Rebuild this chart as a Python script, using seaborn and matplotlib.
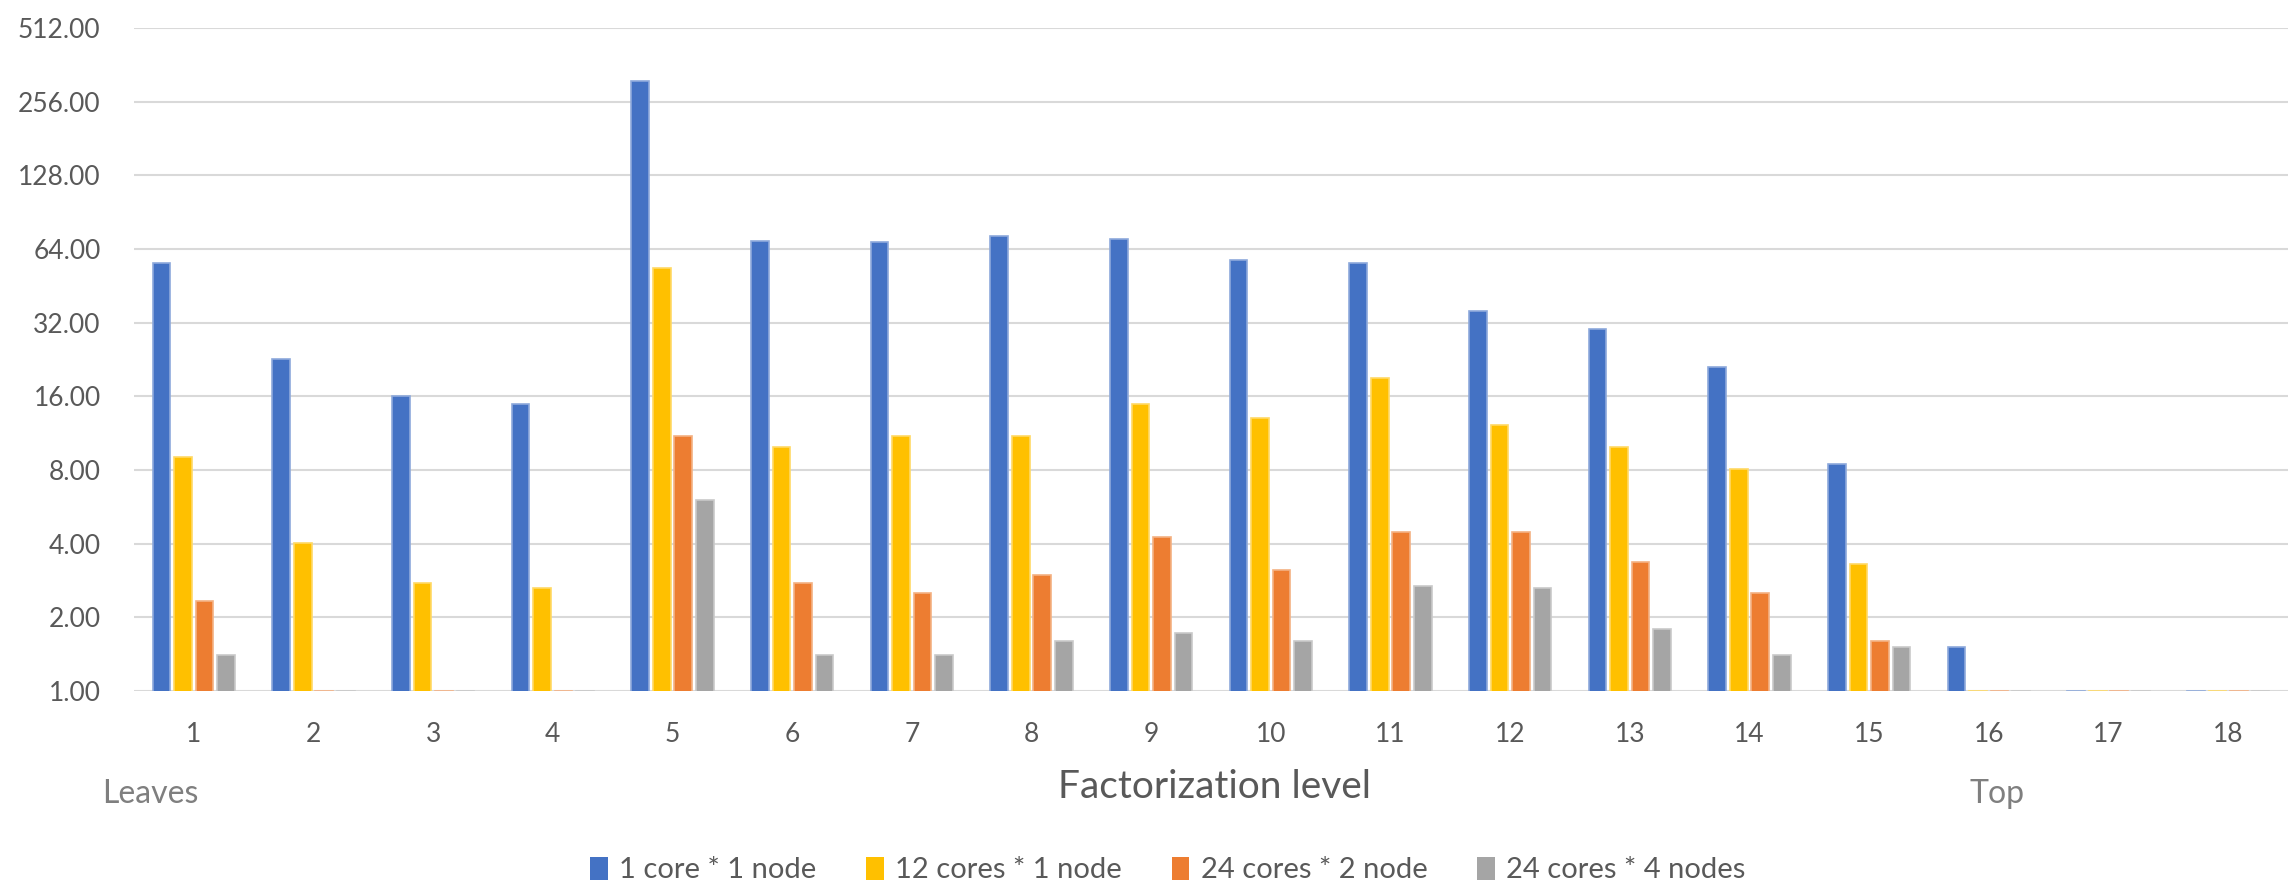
import matplotlib
matplotlib.use("Agg")
import matplotlib.pyplot as plt
import matplotlib.ticker as mticker
import seaborn as sns
import pandas as pd
from matplotlib.patches import Patch

levels = [str(i) for i in range(1, 19)]
series = ["1 core * 1 node", "12 cores * 1 node", "24 cores * 2 node", "24 cores * 4 nodes"]

one_core_one_node = [56.0, 22.7, 16.0, 14.9, 310.0, 68.8, 68.6, 72.3, 70.3, 57.7,
                     56.1, 35.7, 30.1, 21.1, 8.5, 1.51, 1.0, 1.0]
twelve_cores_one_node = [9.0, 4.02, 2.76, 2.63, 53.5, 9.9, 11.0, 11.0, 14.9, 13.1,
                         19.1, 12.2, 9.9, 8.1, 3.29, 1.0, 1.0, 1.0]
twentyfour_cores_two_node = [2.33, 1.0, 1.0, 1.0, 11.0, 2.76, 2.51, 2.98, 4.25, 3.13,
                             4.45, 4.45, 3.38, 2.51, 1.60, 1.0, 1.0, 1.0]
twentyfour_cores_four_nodes = [1.40, 1.0, 1.0, 1.0, 6.03, 1.40, 1.40, 1.60, 1.72, 1.60,
                               2.69, 2.63, 1.80, 1.40, 1.51, 1.0, 1.0, 1.0]

y_ticks = [1, 2, 4, 8, 16, 32, 64, 128, 256, 512]

colors = ["#4472C4", "#FFC000", "#ED7D31", "#A5A5A5"]
edge_tints = ["#8EA9DB", "#FFD966", "#F4B183", "#C9C9C9"]

frames = []
for name, vals in zip(series, [one_core_one_node, twelve_cores_one_node,
                               twentyfour_cores_two_node, twentyfour_cores_four_nodes]):
    frames.append(pd.DataFrame({"level": levels, "series": name, "value": vals}))
df = pd.concat(frames, ignore_index=True)

sns.set_theme(style="white")
plt.rcParams["font.family"] = ["Lato", "DejaVu Sans"]
text_color = "#595959"

fig = plt.figure(figsize=(22.9, 8.83), dpi=100)
ax = fig.add_axes([134 / 2290, 1 - 691 / 883, (2288 - 134) / 2290, (691 - 28) / 883])

sns.barplot(data=df, x="level", y="value", hue="series", hue_order=series,
            palette=colors, width=0.72, gap=0.18, ax=ax, legend=False,
            linewidth=1.2, saturation=1)

# light outline per series, like the spreadsheet rendering
for container, edge in zip(ax.containers, edge_tints):
    for bar in container:
        bar.set_edgecolor(edge)

ax.set_yscale("log", base=2)
ax.set_ylim(1, 512)
ax.set_xlim(-0.5, len(levels) - 0.5)
ax.set_yticks(y_ticks)
ax.yaxis.set_major_formatter(mticker.FuncFormatter(lambda v, p: f"{v:.2f}"))
ax.yaxis.set_minor_locator(mticker.NullLocator())
ax.grid(axis="y", color="#D9D9D9", linewidth=1.5)
ax.set_axisbelow(True)
for s in ax.spines.values():
    s.set_visible(False)
ax.tick_params(axis="both", length=0, labelsize=19, labelcolor=text_color)
ax.tick_params(axis="y", pad=24)
ax.tick_params(axis="x", pad=22)
ax.set_xlabel("")
ax.set_ylabel("")

fig.text(1215 / 2290, 1 - 798 / 883, "Factorization level", ha="center", va="baseline",
         fontsize=28, color=text_color)
fig.text(102 / 2290, 1 - 803 / 883, "Leaves", ha="left", va="baseline",
         fontsize=23, color="#7F7F7F")
fig.text(1970 / 2290, 1 - 803 / 883, "Top", ha="left", va="baseline",
         fontsize=23, color="#7F7F7F")

handles = [Patch(facecolor=c, edgecolor="none") for c in colors]
leg = fig.legend(handles, series, loc="center", bbox_to_anchor=(1168 / 2290, 1 - 870 / 883),
                 ncol=4, frameon=False, fontsize=21, handlelength=0.6, handleheight=0.85,
                 handletextpad=0.4, columnspacing=1.7)
for t in leg.get_texts():
    t.set_color(text_color)

fig.savefig("out.png", dpi=100, facecolor="white")
